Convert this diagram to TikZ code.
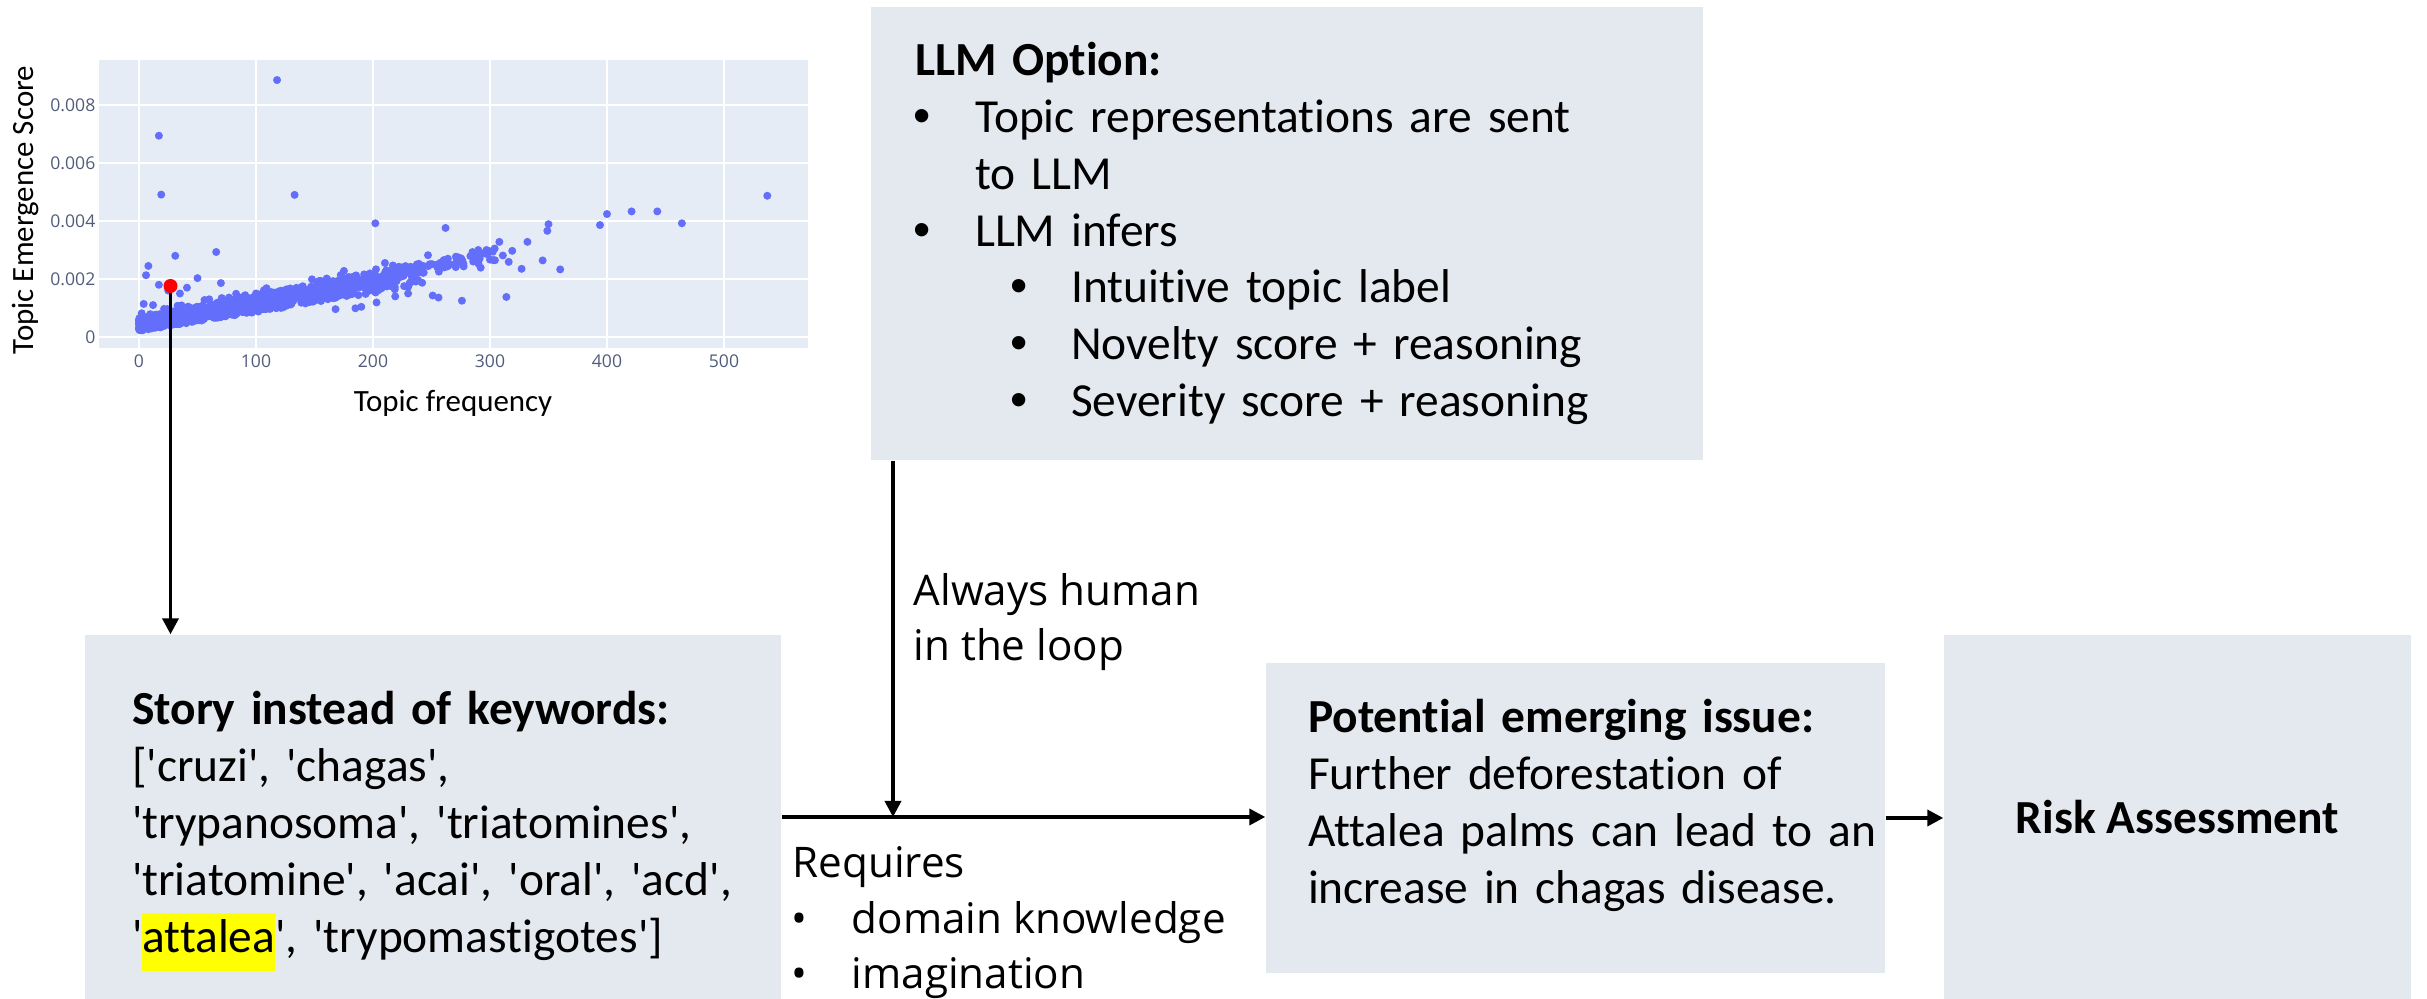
\documentclass[tikz,border=0pt]{standalone}
\usepackage{fontspec}
\setmainfont{Carlito}[Ligatures={TeXOff,NoCommon}]
\newfontfamily\opensans{Open Sans}[Ligatures=TeXOff]
\newfontfamily\bulfont{Liberation Sans}
\usetikzlibrary{arrows.meta}

\definecolor{boxfill}{RGB}{228,233,240}
\definecolor{plotbg}{RGB}{229,236,246}
\definecolor{dotblue}{RGB}{99,110,250}
\definecolor{tickcol}{RGB}{80,92,122}
\definecolor{hotred}{RGB}{255,0,0}
\definecolor{hlyellow}{RGB}{255,255,0}

\newcommand\boxfont{\fontsize{13.5}{16.2}\selectfont}
\newcommand\notefont{\opensans\fontsize{12}{15.9}\selectfont}
\newcommand\dotglyph{\makebox[4pt][c]{\bulfont\fontsize{14}{14}\selectfont •}}
\newcommand\itembul{\makebox[17.1pt][l]{\dotglyph}}
\newcommand\subbul{\hspace*{27.6pt}\makebox[16.8pt][l]{\dotglyph}}
\newcommand\notebul{\makebox[16.8pt][l]{\makebox[4pt][c]{•}}}
\newcommand\hlbox[1]{{\setlength{\fboxsep}{0pt}\colorbox{hlyellow}{\vrule width 0pt height 11.4pt depth 5.1pt #1}}}

\begin{document}
\begin{tikzpicture}[x=0.1mm, y=-0.1mm,
  box/.style={rectangle, fill=boxfill, inner ysep=0pt, align=left, font=\boxfont},
  arr/.style={line width=0.36mm, -{Triangle[length=1.6mm, width=1.6mm]}},
  note/.style={inner sep=0pt, align=left, font=\notefont},
  tick/.style={inner sep=0pt, text=tickcol, font=\opensans\fontsize{5}{6}\selectfont},
  axtitle/.style={inner sep=0pt, font=\fontsize{8.8}{10}\selectfont},
  grid/.style={white, line width=0.12mm},
  zeroline/.style={white, line width=0.28mm},
  pt/.style={dotblue}]
\useasboundingbox (0,0) rectangle (2427,999);

% ---- scatter plot: topic frequency vs. emergence score ----
\fill[plotbg] (99,60) rectangle (808,348);
\foreach \gx in {100,200,300,400,500}
  \draw[grid] ({139+1.17*\gx},60) -- ({139+1.17*\gx},348);
\foreach \gy in {1,2,3,4}
  \draw[grid] (99,{337-58*\gy}) -- (808,{337-58*\gy});
\draw[zeroline] (139,60) -- (139,348);
\draw[zeroline] (99,337) -- (808,337);

\begin{scope}
\clip (99,60) rectangle (808,348);
\pgfmathsetseed{7}
% dense band of small topics
\foreach \i in {1,...,850}{
  \pgfmathsetmacro\fx{240*pow(rnd,1.5)}
  \pgfmathsetmacro\fy{6+0.19*\fx+(13+0.04*\fx)*rnd}
  \fill[pt] ({139+1.17*\fx},{337-\fy}) circle[radius=0.4mm];
}
% looser points just above the band
\foreach \i in {1,...,70}{
  \pgfmathsetmacro\fx{240*pow(rnd,1.3)}
  \pgfmathsetmacro\fy{14+0.2*\fx+(10+0.04*\fx)*rnd}
  \fill[pt] ({139+1.17*\fx},{337-\fy}) circle[radius=0.4mm];
}
% cluster of larger topics
\foreach \i in {1,...,45}{
  \pgfmathsetmacro\fx{235+70*rnd}
  \pgfmathsetmacro\fy{69.6+0.23*(\fx-250)+12*(rnd-0.5)}
  \fill[pt] ({139+1.17*\fx},{337-\fy}) circle[radius=0.4mm];
}
% individual outliers (frequency / score x 1000)
\foreach \a/\b in {118/8.86, 17/6.94, 19/4.91, 133/4.90, 537/4.87, 202/3.92,
  262/3.76, 400/4.24, 421/4.33, 443/4.33, 464/3.92, 394/3.86, 350/3.89,
  349/3.66, 332/3.28, 308/3.28, 304/3.05, 311/2.81, 319/2.97, 316/2.59,
  327/2.35, 345/2.64, 360/2.33, 292/2.39, 285/2.93, 290/3.0, 297/3.0,
  275/2.6, 276/2.55, 264/2.7, 251/1.43, 256/1.36, 276/1.25, 314/1.38,
  247/2.82, 243/2.45, 255/2.5, 261/2.4, 31/2.8, 66/2.93, 8/2.45, 6/2.13,
  50/2.03, 70/1.86, 17/1.80, 41/1.70, 83/1.49, 100/1.50, 168/0.96,
  190/1.04, 203/1.19, 219/1.40, 230/1.50, 242/1.87, 4/1.14, 12/1.1,
  25/1.6, 35/1.5, 60/1.3, 140/1.75, 160/1.85, 180/1.95, 185/0.99, 150/1.3}
  \fill[pt] ({139+1.17*\a},{337-29*\b}) circle[radius=0.4mm];
\end{scope}

\foreach \gy/\lab in {0/0, 1/0.002, 2/0.004, 3/0.006, 4/0.008}
  \node[tick, anchor=east] (yt\gy) at (96,{337-58*\gy}) {\lab};
\foreach \gx in {0,100,200,300,400,500}
  \node[tick] (xt\gx) at ({139+1.17*\gx},361) {\gx};
\node[axtitle] (xtitle) at (453,403) {Topic frequency};
\node[axtitle, rotate=90] (ytitle) at (26,210) {Topic Emergence Score};

% ---- boxes ----
\node[box, inner xsep=4.7mm, text width=60.2mm, minimum height=36.4mm] (story) at (433,817) {%
\rule{0pt}{17.5pt}\textbf{Story instead of keywords:}\\
{[}'cruzi', 'chagas',\\
'trypanosoma', 'triatomines',\\
'triatomine', 'acai', 'oral', 'acd',\\
'\hlbox{attalea}', 'trypomastigotes']};

\node[box, inner xsep=4.4mm, text width=74.4mm, minimum height=45.3mm] (llm) at (1287,233.5) {%
\textbf{LLM Option:}\\
\itembul Topic representations are sent\\
\hspace*{17.1pt}to LLM\\
\itembul LLM infers\\
\subbul Intuitive topic label\\
\subbul Novelty score + reasoning\\
\subbul Severity score + reasoning};

\node[box, inner xsep=4.2mm, text width=53.5mm, minimum height=31mm] (pot) at (1575.5,818) {%
\textbf{Potential emerging issue:}\\
Further deforestation of\\
\mbox{Attalea palms can lead to an}\\
increase in chagas disease.\rule[-9.5pt]{0pt}{0pt}};

\node[box, align=center, minimum width=46.7mm, minimum height=36.4mm] (risk) at (2177.5,817) {\textbf{Risk Assessment}};

% ---- connectors ----
\coordinate (hotc) at (170.5,286);
\draw[arr] (hotc) -- (hotc |- story.north);
\node[circle, fill=hotred, inner sep=0pt, minimum size=1.4mm] (hot) at (hotc) {};

\coordinate (merge) at (893,817);
\draw[arr] (story.east |- merge) -- (pot.west |- merge);
\draw[arr] (llm.south -| merge) -- (merge);
\draw[arr] (pot.east) -- (risk.west |- pot.east);

% ---- connector notes (anchored at the baseline of their last line) ----
\node[note, anchor=base west] (human) at (913,661) {Always human\\in the loop};
\node[note, anchor=base west] (requires) at (792,989) {Requires\\
\notebul domain knowledge\\
\notebul imagination};
\end{tikzpicture}
\end{document}
